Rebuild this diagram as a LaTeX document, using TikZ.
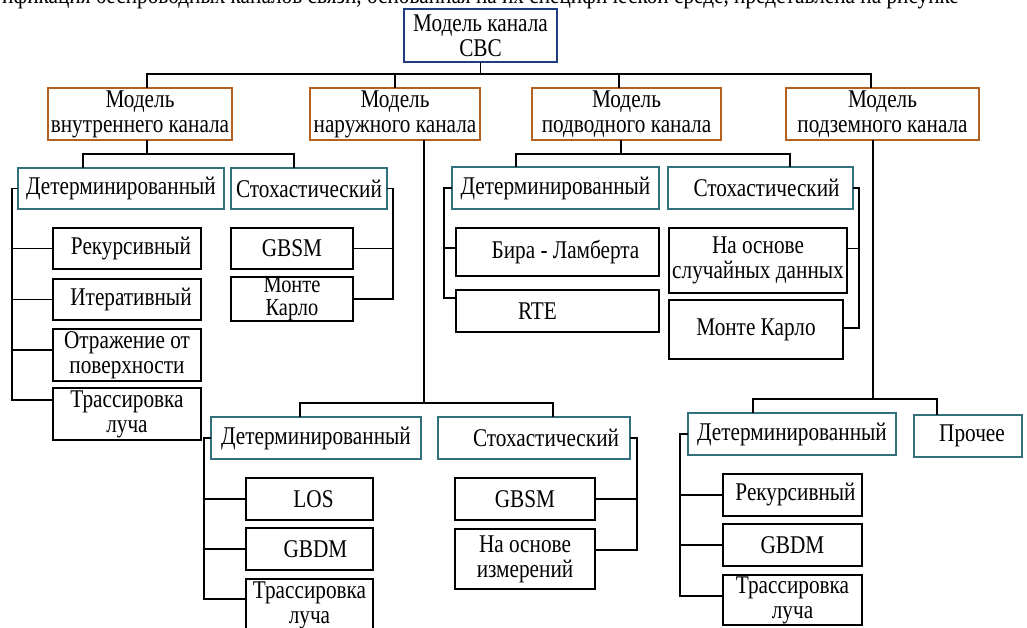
\documentclass[tikz,border=0pt]{standalone}
\usepackage{fontspec}
\setmainfont[FakeStretch=0.833]{Liberation Serif}
\usetikzlibrary{calc}
\definecolor{cblue}{HTML}{1F3C80}
\definecolor{corange}{HTML}{B4601E}
\definecolor{cteal}{HTML}{33707E}
\tikzset{
  base/.style={draw, line width=1.9pt, inner sep=0pt, align=center, font=\fontsize{25.5}{25}\selectfont, anchor=center},
  rootbox/.style={base, draw=cblue},
  modelbox/.style={base, draw=corange},
  typebox/.style={base, draw=cteal},
  leafbox/.style={base, draw=black},
  tight/.style={font=\fontsize{24.5}{23}\selectfont},
  link/.style={line width=1.9pt, black, line cap=rect},
}
\newcommand\bnode[7]{\node[#2, minimum width={(#5-#3)*1pt}, minimum height={(#6-#4)*1pt}] (#1) at ({(#3+#5)/2},{(#4+#6)/2}) {#7};}
\begin{document}
\begin{tikzpicture}[x=1pt,y=-1pt]
\useasboundingbox (0,0) rectangle (1027,627);
\clip (0,0) rectangle (1027,627);
\fill[white] (0,0) rectangle (1027,627);
\node[anchor=base west, inner sep=0pt, font=\fontsize{25.5}{25}\selectfont] (caption) at (2,3) {ификация беспроводных каналов связи, основанная на их специфической среде, представлена на рисунке};
% level 0-1
\bnode{root}{rootbox}{404}{9}{557}{62}{Модель канала\\СВС}
\bnode{inner}{modelbox}{48}{88}{232}{140}{Модель\\внутреннего канала}
\bnode{outd}{modelbox}{310}{88}{480}{140}{Модель\\наружного канала}
\bnode{uw}{modelbox}{532}{88}{721}{140}{Модель\\подводного канала}
\bnode{ug}{modelbox}{786}{88}{979}{140}{Модель\\подземного канала}
% inner
\bnode{idet}{typebox}{18}{168}{224}{209}{Детерминированный}
\bnode{istoch}{typebox}{231}{168}{387}{209}{Стохастический}
\bnode{irec}{leafbox}{53}{228}{201}{269}{\hspace*{8pt}Рекурсивный}
\bnode{iiter}{leafbox}{53}{279}{201}{320}{\hspace*{8pt}Итеративный}
\bnode{irefl}{leafbox}{53}{329}{201}{381}{Отражение от\\поверхности}
\bnode{itrace}{leafbox}{53}{388}{201}{440}{Трассировка\\луча}
\bnode{igbsm}{leafbox}{231}{228}{353}{269}{GBSM}
\bnode{imc}{leafbox,tight}{231}{278}{353}{320}{Монте\\Карло}
% outdoor
\bnode{odet}{typebox}{211}{417}{421}{459}{Детерминированный}
\bnode{ostoch}{typebox}{438}{417}{630}{459}{\hspace*{24pt}Стохастический}
\bnode{olos}{leafbox}{246}{478}{373}{520}{\hspace*{8pt}LOS}
\bnode{ogbdm}{leafbox}{246}{528}{373}{570}{\hspace*{12pt}GBDM}
\bnode{otrace}{leafbox}{246}{579}{373}{631}{Трассировка\\луча}
\bnode{ogbsm}{leafbox}{455}{478}{595}{520}{GBSM}
\bnode{omeas}{leafbox}{455}{529}{595}{589}{На основе\\измерений}
% underwater
\bnode{uwdet}{typebox}{452}{167}{659}{209}{Детерминированный}
\bnode{uwstoch}{typebox}{668}{167}{853}{209}{\hspace*{12pt}Стохастический}
\bnode{ubl}{leafbox}{456}{228}{659}{276}{\hspace*{16pt}Бира - Ламберта}
\bnode{urte}{leafbox}{456}{290}{659}{332}{RTE\hspace*{40pt}}
\bnode{urand}{leafbox}{669}{228}{847}{293}{На основе\\случайных данных}
\bnode{umc}{leafbox}{669}{300}{843}{359}{Монте Карло}
% underground
\bnode{ugdet}{typebox}{688}{413}{896}{455}{Детерминированный}
\bnode{uoth}{typebox}{914}{415}{1022}{457}{\hspace*{8pt}Прочее}
\bnode{grec}{leafbox}{723}{474}{862}{516}{\hspace*{6pt}Рекурсивный}
\bnode{ggbdm}{leafbox}{723}{524}{862}{566}{GBDM}
\bnode{gtrace}{leafbox}{723}{575}{862}{625}{Трассировка\\луча}
% ---- connectors ----
\coordinate (b1L) at (147,74);
\coordinate (b1R) at (871,74);
\draw[link] (root.south) -- (root.south |- b1L);
\draw[link] (inner.north -| b1L) -- (b1L) -- (b1R) -- (ug.north -| b1R);
\draw[link] (outd.north) -- (outd.north |- b1L);
\draw[link] ([xshift=-7.5pt]uw.north) -- ([xshift=-7.5pt]uw.north |- b1L);
% inner
\coordinate (b2) at (147,154);
\coordinate (b2L) at (83,154);
\coordinate (b2R) at (294,154);
\draw[link] (inner.south -| b2) -- (b2);
\draw[link] (idet.north -| b2L) -- (b2L) -- (b2R) -- (istoch.north -| b2R);
\coordinate (r1) at (12,400);
\draw[link] (idet.west) -| (r1) -- (r1 -| itrace.west);
\draw[link] (irec.west) -- (irec.west -| r1);
\draw[link] (iiter.west) -- (iiter.west -| r1);
\draw[link] ([yshift=5pt]irefl.west) -- ([yshift=5pt]irefl.west -| r1);
\coordinate (r2) at (393,299);
\draw[link] (istoch.east) -| (r2) -- (r2 -| imc.east);
\draw[link] (igbsm.east) -- (igbsm.east -| r2);
% outdoor
\coordinate (b3) at (424,403);
\coordinate (b3L) at (300,403);
\coordinate (b3R) at (553,403);
\draw[link] (outd.south -| b3) -- (b3);
\draw[link] (odet.north -| b3L) -- (b3L) -- (b3R) -- (ostoch.north -| b3R);
\coordinate (r3) at (204,599);
\draw[link] (odet.west) -| (r3) -- (r3 -| otrace.west);
\draw[link] (olos.west) -- (olos.west -| r3);
\draw[link] (ogbdm.west) -- (ogbdm.west -| r3);
\coordinate (r4) at (637,550);
\draw[link] (ostoch.east) -| (r4) -- (r4 -| omeas.east);
\draw[link] (ogbsm.east) -- (ogbsm.east -| r4);
% underwater
\coordinate (b4) at (621,154);
\coordinate (b4L) at (516,154);
\coordinate (b4R) at (790,154);
\draw[link] (uw.south -| b4) -- (b4);
\draw[link] (uwdet.north -| b4L) -- (b4L) -- (b4R) -- (uwstoch.north -| b4R);
\coordinate (r5) at (444,298);
\draw[link] (uwdet.west) -| (r5) -- (r5 -| urte.west);
\draw[link] ([yshift=4pt]ubl.west) -- ([yshift=4pt]ubl.west -| r5);
\coordinate (r6) at (859,328);
\draw[link] (uwstoch.east) -| (r6) -- (r6 -| umc.east);
\draw[link] ([yshift=12pt]urand.east) -- ([yshift=12pt]urand.east -| r6);
% underground
\coordinate (b5) at (873,399);
\coordinate (b5L) at (753,399);
\coordinate (b5R) at (937,399);
\draw[link] (ug.south -| b5) -- (b5);
\draw[link] (ugdet.north -| b5L) -- (b5L) -- (b5R) -- (uoth.north -| b5R);
\coordinate (r7) at (680,596);
\draw[link] (ugdet.west) -| (r7) -- (r7 -| gtrace.west);
\draw[link] (grec.west) -- (grec.west -| r7);
\draw[link] (ggbdm.west) -- (ggbdm.west -| r7);
\end{tikzpicture}
\end{document}
